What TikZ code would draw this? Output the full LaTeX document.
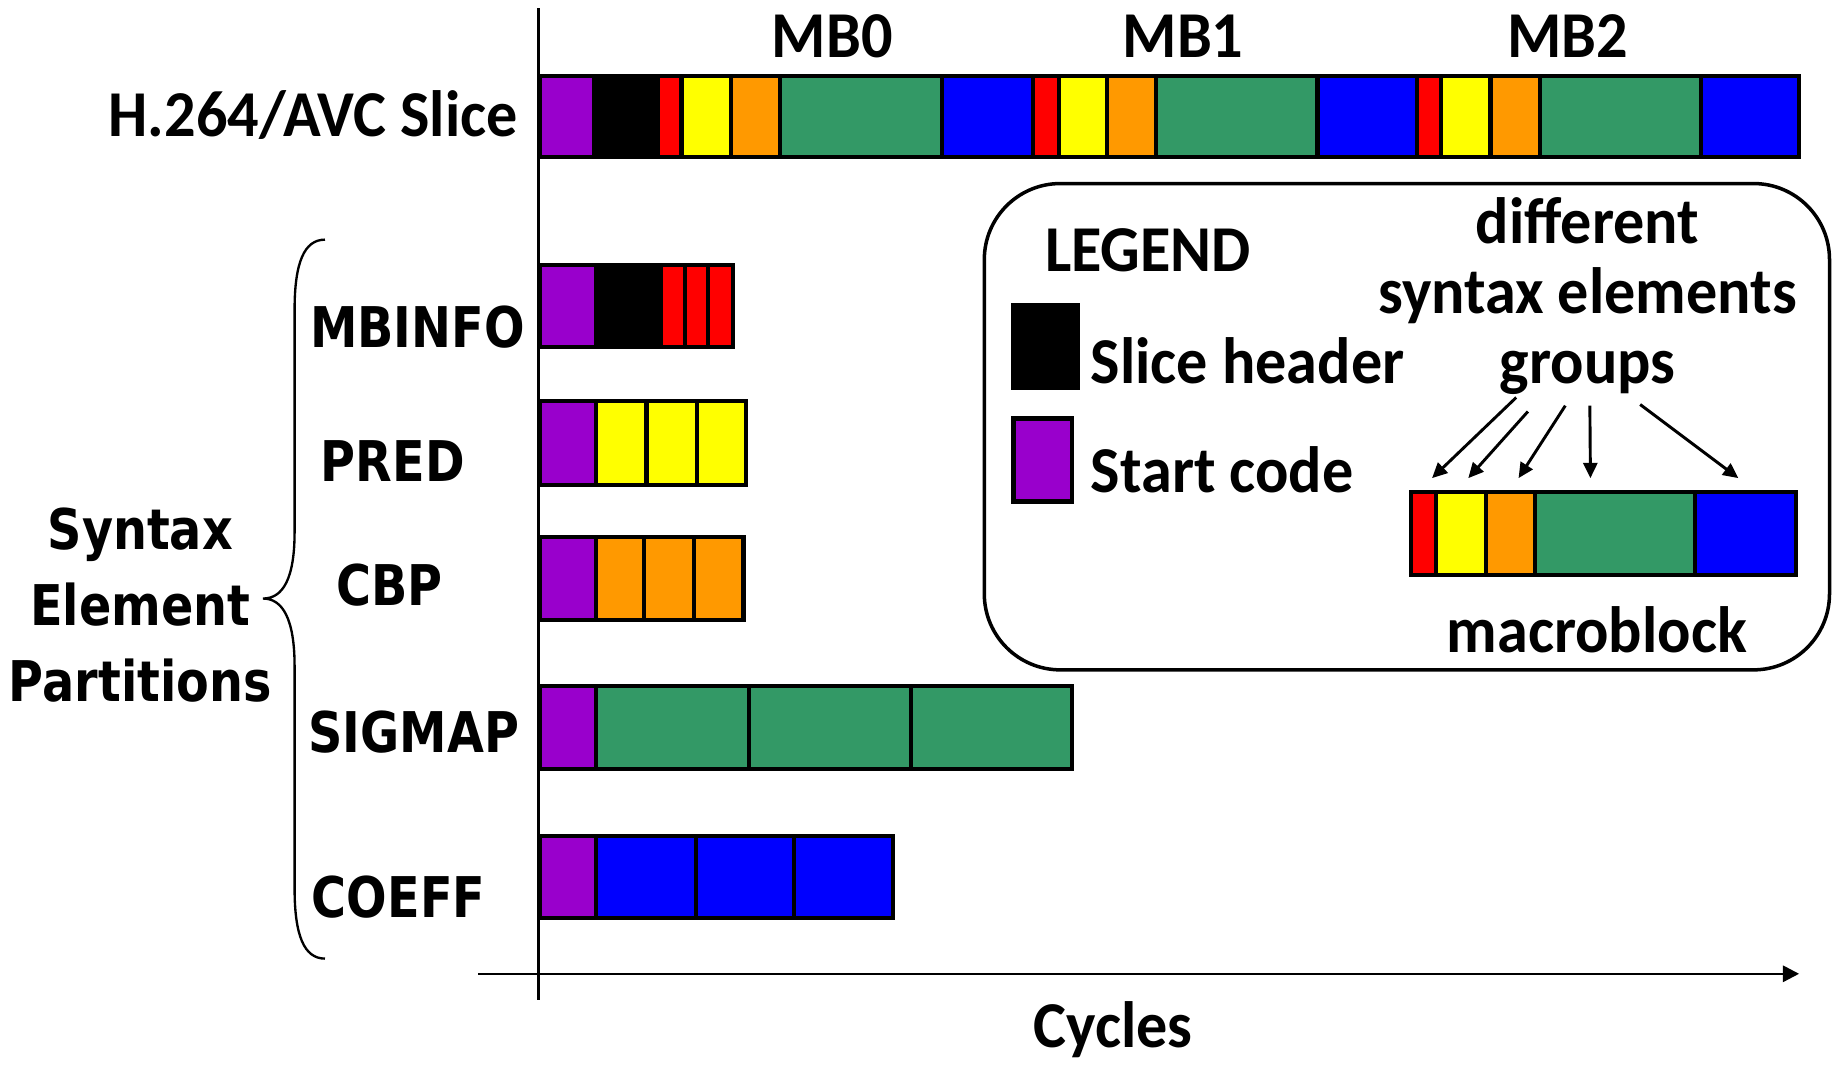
\documentclass[tikz,border=0pt]{standalone}
\usepackage{fontspec}
\setmainfont{Carlito}[FakeStretch=0.95]
\newfontfamily\labfont{DejaVu Sans}[FakeStretch=0.85]
\usetikzlibrary{arrows.meta}
\definecolor{cpurple}{HTML}{9900CC}
\definecolor{cred}{HTML}{FF0000}
\definecolor{cyellow}{HTML}{FFFF00}
\definecolor{corange}{HTML}{FF9900}
\definecolor{cgreen}{HTML}{339966}
\definecolor{cblue}{HTML}{0000FF}
\begin{document}
\begin{tikzpicture}[x=1pt,y=-1pt,
  seg/.style={draw=black, line width=3.5pt, line join=miter},
  cal/.style={font=\fontsize{56}{60}\selectfont\bfseries, inner sep=0pt, anchor=base},
  lab/.style={font=\labfont\fontsize{48}{52}\selectfont\bfseries, inner sep=0pt, anchor=base},
  grparrow/.style={line width=2.5pt, -{Triangle[length=13pt,width=12pt]}},
]
\useasboundingbox (0,0) rectangle (1568,911);
\fill[white] (0,0) rectangle (1568,911);

% axes
\coordinate (vtop) at (461,7);
\coordinate (vbot) at (461,855);
\coordinate (hstart) at (409,833);
\coordinate (hend) at (1539,833);
\draw[line width=2.6pt] (vtop) -- (vbot);
\draw[line width=2.2pt, -{Triangle[length=14pt,width=14pt]}] (hstart) -- (hend);

% slice bar
\foreach \a/\b/\c in {462/508/cpurple, 508/563/black, 563/583/cred, 583/625/cyellow, 625/667/corange, 667/806/cgreen, 806/884/cblue,
  884/906/cred, 906/947/cyellow, 947/989/corange, 989/1127/cgreen, 1127/1212/cblue,
  1212/1233/cred, 1233/1275/cyellow, 1275/1317/corange, 1317/1455/cgreen, 1455/1539/cblue}
  \draw[seg, fill=\c] (\a,65) rectangle (\b,134);

% partitions
\foreach \a/\b/\c in {462/510/cpurple, 510/565/black, 565/586/cred, 586/606/cred, 606/627/cred}
  \draw[seg, fill=\c] (\a,227) rectangle (\b,297);
\foreach \a/\b/\c in {462/510/cpurple, 510/553/cyellow, 553/596/cyellow, 596/638/cyellow}
  \draw[seg, fill=\c] (\a,343) rectangle (\b,415);
\foreach \a/\b/\c in {462/510/cpurple, 510/551/corange, 551/594/corange, 594/636/corange}
  \draw[seg, fill=\c] (\a,459) rectangle (\b,530);
\foreach \a/\b/\c in {462/510/cpurple, 510/641/cgreen, 641/779/cgreen, 779/917/cgreen}
  \draw[seg, fill=\c] (\a,587) rectangle (\b,658);
\foreach \a/\b/\c in {462/510/cpurple, 510/595/cblue, 595/679/cblue, 679/764/cblue}
  \draw[seg, fill=\c] (\a,715) rectangle (\b,785);

% labels
\node[cal, anchor=base east] (slice) at (443,117) {H.264/AVC Slice};
\node[cal] (mb0) at (712,49) {MB0};
\node[cal] (mb1) at (1012,49) {MB1};
\node[cal] (mb2) at (1341,49) {MB2};
\node[cal] (cycles) at (952,896) {Cycles};

\node[lab] (mbinfo) at (357,297) {MBINFO};
\node[lab] (pred) at (336,412) {PRED};
\node[lab] (cbp) at (333,518) {CBP};
\node[lab] (sigmap) at (354,644) {SIGMAP};
\node[lab] (coeff) at (341,785) {COEFF};

\node[lab] (syn1) at (120,470) {Syntax};
\node[lab] (syn2) at (120,535) {Element};
\node[lab] (syn3) at (120,600) {Partitions};

% brace
\draw[line width=2pt] (278,205) .. controls (260,205) and (252,225) .. (252,265)
  -- (252,455) .. controls (252,495) and (242,512) .. (225,512)
  .. controls (242,512) and (252,530) .. (252,570)
  -- (252,760) .. controls (252,800) and (260,820) .. (278,820);

% legend
\draw[line width=3pt, rounded corners=65pt] (842,157) rectangle (1565,573);
\node[cal] (legend) at (982,232) {LEGEND};
\draw[seg, fill=black] (867,261) rectangle (922,332);
\draw[seg, fill=cpurple] (867,358) rectangle (917,429);
\node[cal, anchor=base west] (sh) at (933,328) {Slice header};
\node[cal, anchor=base west] (sc) at (933,421) {Start code};
\node[cal] (diff) at (1358,208) {different};
\node[cal] (synel) at (1358,268) {syntax elements};
\node[cal] (groups) at (1358,328) {groups};
\node[cal] (mblk) at (1366,558) {macroblock};
\foreach \a/\b/\c in {1207/1228/cred, 1228/1271/cyellow, 1271/1313/corange, 1313/1450/cgreen, 1450/1536/cblue}
  \draw[seg, fill=\c] (\a,421) rectangle (\b,492);

\coordinate (s1) at (1297,340); \coordinate (e1) at (1225,409);
\coordinate (s2) at (1307,352); \coordinate (e2) at (1256,409);
\coordinate (s3) at (1339,347); \coordinate (e3) at (1299,409);
\coordinate (s4) at (1360,347); \coordinate (e4) at (1360.5,409);
\coordinate (s5) at (1403,346); \coordinate (e5) at (1487,409);
\foreach \i in {1,...,5} \draw[grparrow] (s\i) -- (e\i);
\end{tikzpicture}
\end{document}
